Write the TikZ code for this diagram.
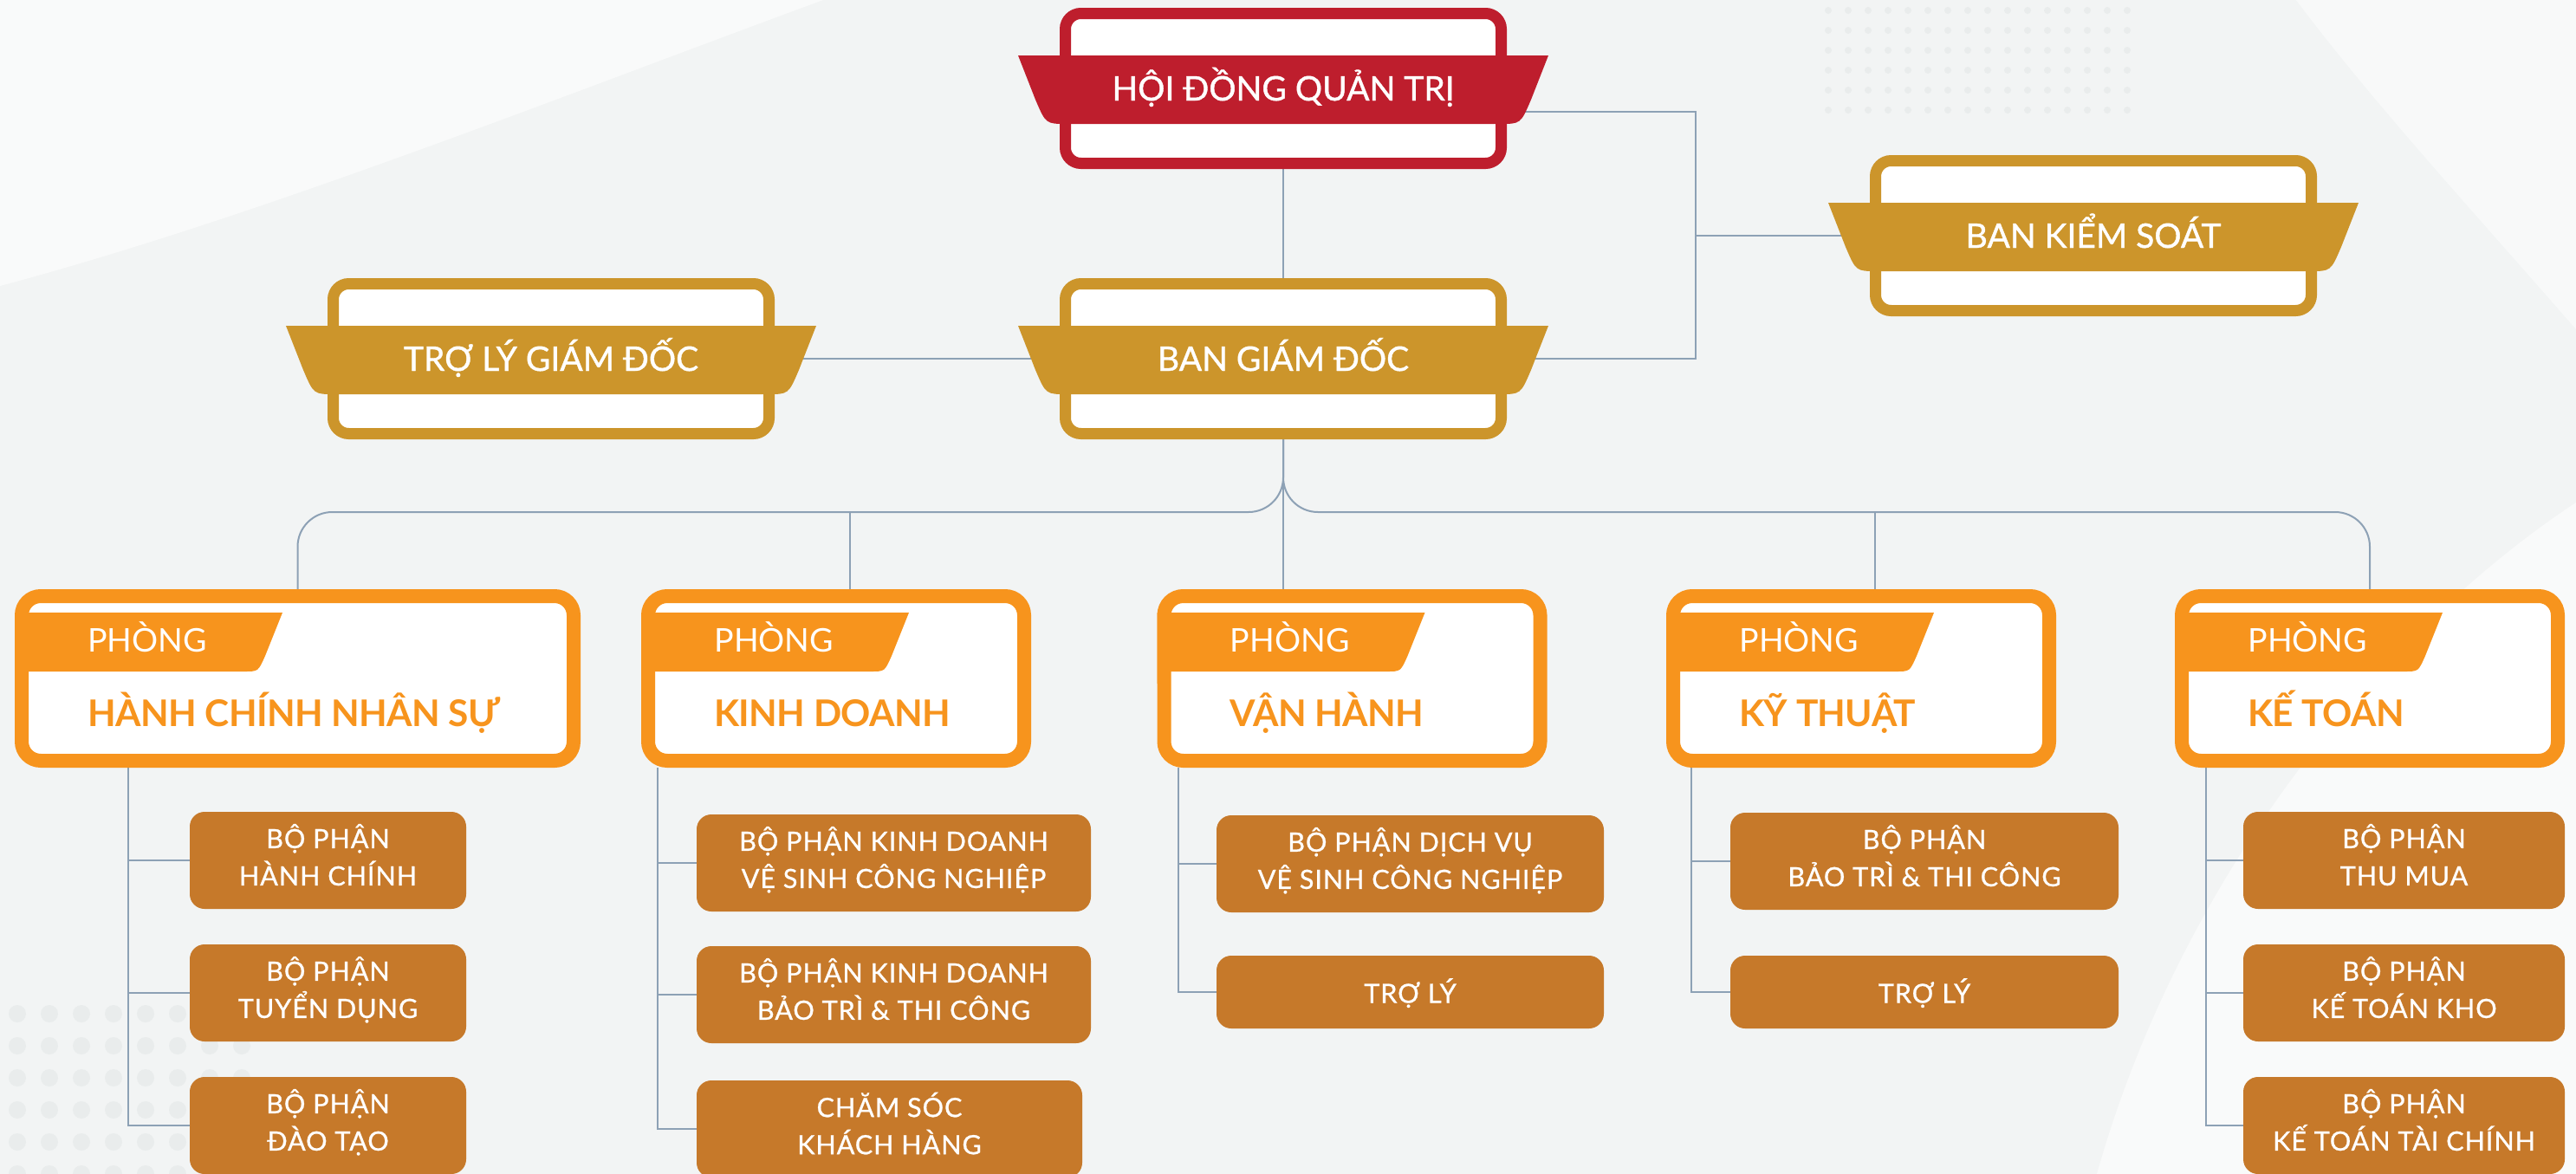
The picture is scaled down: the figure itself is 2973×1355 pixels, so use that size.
\documentclass[tikz,border=0pt]{standalone}
\usepackage{fontspec}
\setmainfont{Lato}
\newfontfamily\banfont[FakeBold=1]{Lato}
\newfontfamily\bophanfont[FakeBold=0.8, LetterSpace=3]{Lato}
\newfontfamily\phongfont[LetterSpace=-1.5]{Lato}
\usetikzlibrary{calc}

\definecolor{hdqtred}{HTML}{BE1E2D}
\definecolor{bangold}{HTML}{CC952B}
\definecolor{phongorange}{HTML}{F7941D}
\definecolor{bophanbrown}{HTML}{C6792A}
\definecolor{linkgray}{HTML}{8DA1B5}
\definecolor{bggray}{HTML}{F2F4F4}
\definecolor{dotgray}{HTML}{E9ECEC}

\pgfdeclarelayer{bg}
\pgfdeclarelayer{links}
\pgfsetlayers{bg,links,main}

\tikzset{
  banbox/.style={draw=#1, line width=6.5pt, fill=white, rounded corners=9pt,
    minimum width=251.5pt, minimum height=86.5pt, inner sep=0pt},
  bantext/.style={text=white, font=\banfont\fontsize{19.5}{23}\selectfont, anchor=base, inner sep=0pt},
  phongbox/.style={draw=phongorange, line width=8pt, fill=white, rounded corners=11pt,
    minimum width=#1, minimum height=95pt, inner sep=0pt},
  phongbox/.default=217pt,
  phongtag/.style={text=white, font=\fontsize{18.8}{22}\selectfont, anchor=base west, inner sep=0pt},
  phongname/.style={text=phongorange, font=\phongfont\bfseries\fontsize{21.2}{26}\selectfont, anchor=base west, inner sep=0pt},
  bophan/.style={fill=bophanbrown, text=white, rounded corners=8.5pt, minimum width=#1,
    minimum height=56pt, inner sep=0pt, align=center, font=\bophanfont\fontsize{15.3}{21.5}\selectfont,
    execute at begin node=\rule{0pt}{19pt}, execute at end node=\rule[-6.5pt]{0pt}{6.5pt}},
  bophan/.default=224pt,
  link/.style={draw=linkgray, line width=1pt},
}

% ribbon across a ban box
\newcommand{\banribbon}[2]{%
  \fill[#2] ($(#1)+(-306,-38)$) -- ($(#1)+(306,-38)$) -- ($(#1)+(286,13)$)
    .. controls ($(#1)+(274,41)$) .. ($(#1)+(250,41)$) -- ($(#1)+(-250,41)$)
    .. controls ($(#1)+(-274,41)$) .. ($(#1)+(-286,13)$) -- cycle;}
% "PHÒNG" tab inside a department box
\newcommand{\phongtab}[1]{%
  \fill[phongorange] ($(#1.west)+(0,-76)$) -- ($(#1.west)+(309,-76)$) -- ($(#1.west)+(289,-26)$)
    .. controls ($(#1.west)+(281,-8)$) .. ($(#1.west)+(265,-8)$) -- ($(#1.west)+(22,-8)$)
    .. controls ($(#1.west)+(8,-8)$) .. ($(#1.west)+(8,6)$) -- ($(#1.west)+(0,6)$) -- cycle;}

\begin{document}
\begin{tikzpicture}[x=0.5pt, y=-0.5pt]
\useasboundingbox (0,0) rectangle (2973,1355);
\begin{pgfonlayer}{bg}
  \fill[bggray] (0,0) rectangle (2973,1355);
  % soft swooshes
  \fill[white, opacity=0.6] (0,0) -- (950,0) .. controls (650,110) and (300,250) .. (0,330) -- cycle;
  \fill[white, opacity=0.55] (2420,1355) .. controls (2520,1000) and (2760,720) .. (2973,580) -- (2973,1355) -- cycle;
  \fill[white, opacity=0.5] (2650,0) -- (2973,0) -- (2973,380) .. controls (2860,250) and (2740,120) .. (2650,0);
  % dots
  \foreach \i in {0,...,15} \foreach \j in {0,...,5}
    \fill[dotgray] (2110+23*\i, 12+23*\j) circle (2pt);
  \foreach \i in {0,...,7} \foreach \j in {0,...,5}
    \fill[dotgray] (20+37*\i, 1170+37*\j) circle (5pt);
\end{pgfonlayer}

% Ban boxes
\node[banbox=hdqtred] (hdqt) at (1481,102) {};
\banribbon{hdqt}{hdqtred}
\node[bantext] (hdqt-text) at ($(hdqt)+(0,14)$) {HỘI ĐỒNG QUẢN TRỊ};
\node[banbox=bangold] (bks) at (2416,272) {};
\banribbon{bks}{bangold}
\node[bantext] (bks-text) at ($(bks)+(0,14)$) {BAN KIỂM SOÁT};
\node[banbox=bangold] (tlgd) at (636,414) {};
\banribbon{tlgd}{bangold}
\node[bantext] (tlgd-text) at ($(tlgd)+(0,14)$) {TRỢ LÝ GIÁM ĐỐC};
\node[banbox=bangold] (bgd) at (1481,414) {};
\banribbon{bgd}{bangold}
\node[bantext] (bgd-text) at ($(bgd)+(0,14)$) {BAN GIÁM ĐỐC};

% Departments
\node[phongbox=318.5pt] (hcns) at (343.5,783) {};
\node[phongbox] (kd) at (965,783) {};
\node[phongbox] (vh) at (1560.5,783) {};
\node[phongbox] (kt) at (2148,783) {};
\node[phongbox] (kto) at (2735,783) {};
\foreach \d/\name in {hcns/HÀNH CHÍNH NHÂN SỰ, kd/KINH DOANH, vh/VẬN HÀNH, kt/KỸ THUẬT, kto/KẾ TOÁN}{
  \phongtab{\d}
  \node[phongtag] (\d-tag) at ($(\d.west)+(84,-31)$) {PHÒNG};
  \node[phongname] (\d-name) at ($(\d.west)+(84,55)$) {\name};
}

% Sections
\node[bophan=159.5pt] (hcns1) at (378.5,993) {BỘ PHẬN\\HÀNH CHÍNH};
\node[bophan=159.5pt] (hcns2) at (378.5,1146) {BỘ PHẬN\\TUYỂN DỤNG};
\node[bophan=159.5pt] (hcns3) at (378.5,1299) {BỘ PHẬN\\ĐÀO TẠO};
\node[bophan=227.5pt] (kd1) at (1031.5,996) {BỘ PHẬN KINH DOANH\\VỆ SINH CÔNG NGHIỆP};
\node[bophan=227.5pt] (kd2) at (1031.5,1148) {BỘ PHẬN KINH DOANH\\BẢO TRÌ \& THI CÔNG};
\node[bophan=222.5pt] (kd3) at (1026.5,1303) {CHĂM SÓC\\KHÁCH HÀNG};
\node[bophan=223.5pt] (vh1) at (1627.5,997) {BỘ PHẬN DỊCH VỤ\\VỆ SINH CÔNG NGHIỆP};
\node[bophan=223.5pt, minimum height=42pt] (vh2) at (1627.5,1145) {TRỢ LÝ};
\node[bophan=224pt] (kt1) at (2221,994) {BỘ PHẬN\\BẢO TRÌ \& THI CÔNG};
\node[bophan=224pt, minimum height=42pt] (kt2) at (2221,1145) {TRỢ LÝ};
\node[bophan=185.5pt] (kto1) at (2774.5,993) {BỘ PHẬN\\THU MUA};
\node[bophan=185.5pt] (kto2) at (2774.5,1146) {BỘ PHẬN\\KẾ TOÁN KHO};
\node[bophan=185.5pt] (kto3) at (2774.5,1299) {BỘ PHẬN\\KẾ TOÁN TÀI CHÍNH};

\begin{pgfonlayer}{links}
  % top levels
  \draw[link] (hdqt.south) -- (bgd.north);
  \coordinate (bks-knot) at (1957,272);
  \draw[link] ([yshift=-13.5pt]hdqt.east) -| (bks-knot) |- (bgd.east);
  \draw[link] (bks-knot) -- (bks.west);
  \draw[link] (tlgd.east) -- (bgd.west);
  % fork to the departments
  \coordinate (fork) at (1481,591);
  \draw[link, rounded corners=20pt] (hcns.north) |- (fork) -- (bgd.south);
  \draw[link, rounded corners=20pt] (kto.north) |- (fork) -- (bgd.south);
  \draw[link] (bgd.south) -- (bgd.south |- vh.north);
  \coordinate (kd-drop) at ($(kd.north)+(16,0)$);
  \coordinate (kt-drop) at ($(kt.north)+(16,0)$);
  \draw[link] (kd-drop |- fork) -- (kd-drop);
  \draw[link] (kt-drop |- fork) -- (kt-drop);
  % section columns
  \foreach \i in {1,2,3} \draw[link] (hcns.south -| 148,0) |- (hcns\i.west);
  \foreach \i in {1,2,3} \draw[link] (kd.south -| 759,0) |- (kd\i.west);
  \foreach \i in {1,2} \draw[link] (vh.south -| 1360,0) |- (vh\i.west);
  \foreach \i in {1,2} \draw[link] (kt.south -| 1952,0) |- (kt\i.west);
  \foreach \i in {1,2,3} \draw[link] (kto.south -| 2546,0) |- (kto\i.west);
\end{pgfonlayer}
\end{tikzpicture}
\end{document}
